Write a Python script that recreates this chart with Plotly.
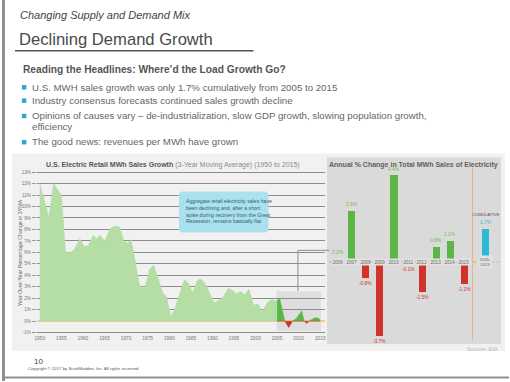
import plotly.graph_objects as go

# ---------------- data ----------------
ma_years = [1950.0, 1952.1, 1953.2, 1955.0, 1956.0, 1957.2, 1958.1, 1959.3, 1960.3, 1961.2,
            1962.4, 1963.1, 1964.0, 1965.0, 1966.4, 1967.4, 1968.5, 1969.5, 1970.4, 1971.2,
            1973.1, 1974.3, 1975.4, 1976.4, 1978.5, 1979.4, 1980.4, 1981.2, 1983.5, 1984.5,
            1985.4, 1986.6, 1987.3, 1988.5, 1990.4, 1991.9, 1992.5, 1993.7, 1994.6, 1995.6,
            1996.5, 1997.5, 1998.5, 1999.6, 2000.6, 2001.5, 2002.7, 2003.7, 2004.4, 2005.0]
ma_vals = [12.0, 9.1, 12.0, 11.0, 6.0, 6.0, 6.3, 7.2, 6.5, 6.6,
           7.5, 7.2, 7.5, 7.0, 8.1, 8.3, 8.2, 7.0, 6.8, 7.1,
           3.2, 2.8, 4.5, 4.9, 2.5, 2.1, 0.4, 1.0, 3.6, 3.3,
           2.5, 3.6, 3.7, 3.2, 1.6, 1.9, 2.1, 2.9, 2.7, 2.4,
           2.6, 2.3, 2.8, 1.4, 1.5, 0.8, 1.6, 1.9, 1.8, 1.8]

recent_years = [2005.0, 2005.6, 2006.8, 2007.7, 2008.6, 2009.6, 2010.7, 2011.3, 2011.9,
                2012.4, 2013.0, 2013.8, 2014.6, 2015.0]
recent_vals = [1.8, 2.0, 0.0, -0.55, 0.0, 0.3, 0.9, 0.0, -0.2,
               0.0, 0.15, 0.3, 0.25, 0.1]

x_ticks = list(range(1950, 2016, 5))
y_ticks = list(range(-1, 14))
y_ticktext = [f"{v}%" for v in y_ticks]

bar_years = ["2006", "2007", "2008", "2009", "2010", "2011", "2012", "2013", "2014", "2015"]
bar_vals = [0.2, 2.6, -0.8, -3.7, 4.4, -0.1, -1.5, 0.8, 1.1, -1.1]
cum_label = "2005-<br>2015"
cum_val = 1.7

bullets = [
    ["U.S. MWH sales growth was only 1.7% cumulatively from 2005 to 2015"],
    ["Industry consensus forecasts continued sales growth decline"],
    ["Opinions of causes vary \u2013 de-industrialization, slow GDP growth, slowing population growth,",
     "efficiency"],
    ["The good news: revenues per MWh have grown"],
]

# ---------------- helpers ----------------
W, H = 510, 382
def px(x):
    return x / W
def py(y):
    return 1 - y / H

FONT = "Liberation Sans, Arial, sans-serif"
NARROW = "Liberation Sans Narrow, Arial Narrow, Liberation Sans, sans-serif"
GREEN_L = "#b5dea4"
GREEN = "#5cb646"
RED = "#cf332c"
CYAN = "#2bb9d6"

fig = go.Figure()

# left area chart
fig.add_trace(go.Scatter(x=ma_years, y=ma_vals, mode="lines", fill="tozeroy",
                         fillcolor=GREEN_L, line=dict(color=GREEN_L, width=0.5),
                         xaxis="x", yaxis="y", hoverinfo="skip"))
fig.add_trace(go.Scatter(x=recent_years, y=[max(v, 0) for v in recent_vals], mode="lines",
                         fill="tozeroy", fillcolor=GREEN, line=dict(color=GREEN, width=0.5),
                         xaxis="x", yaxis="y", hoverinfo="skip"))
fig.add_trace(go.Scatter(x=recent_years, y=[min(v, 0) for v in recent_vals], mode="lines",
                         fill="tozeroy", fillcolor=RED, line=dict(color=RED, width=0.5),
                         xaxis="x", yaxis="y", hoverinfo="skip"))

# right bar chart
idx = list(range(len(bar_vals)))
fig.add_trace(go.Bar(x=idx, y=bar_vals, width=0.5,
                     marker=dict(color=[GREEN if v > 0 else RED for v in bar_vals], line=dict(width=0)),
                     xaxis="x2", yaxis="y2", hoverinfo="skip"))
cum_x = len(bar_vals) + 0.5
fig.add_trace(go.Bar(x=[cum_x], y=[cum_val], width=0.5, marker=dict(color=CYAN, line=dict(width=0)),
                     xaxis="x2", yaxis="y2", hoverinfo="skip"))

shapes = []
annotations = []

# slide borders
shapes.append(dict(type="rect", xref="paper", yref="paper", x0=0, x1=px(3), y0=0, y1=1,
                   fillcolor="#8f8f8f", line=dict(width=0), layer="below"))
shapes.append(dict(type="line", xref="paper", yref="paper", x0=0, x1=1, y0=py(378.5), y1=py(378.5),
                   line=dict(color="#8f8f8f", width=2)))
# title underline
shapes.append(dict(type="line", xref="paper", yref="paper", x0=px(13), x1=px(253), y0=py(51), y1=py(51),
                   line=dict(color="#555555", width=1.5)))
# panels
shapes.append(dict(type="rect", xref="paper", yref="paper", x0=px(10), x1=px(506), y0=py(352), y1=py(154),
                   fillcolor="#f1f1f1", line=dict(width=0), layer="below"))
shapes.append(dict(type="rect", xref="paper", yref="paper", x0=px(327), x1=px(502), y0=py(345), y1=py(158),
                   fillcolor="#dadada", line=dict(width=0), layer="below"))
# highlight rect in left chart
shapes.append(dict(type="rect", xref="x", yref="y", x0=2004.9, x1=2015.2, y0=-0.85, y1=2.6,
                   fillcolor="#dedede", line=dict(width=0), layer="below"))
# connector
shapes.append(dict(type="path", xref="paper", yref="paper",
                   path=f"M {px(297.7)},{py(291.7)} L {px(297.7)},{py(251)} L {px(329)},{py(251)}",
                   line=dict(color="#8c8c8c", width=1)))
# callout box (rounded)
bx0, bx1, by0, by1, r = 178, 268, 192, 233, 4
rx, ry = r / W, r / H
path = (f"M {px(bx0)+rx},{py(by0)} L {px(bx1)-rx},{py(by0)} Q {px(bx1)},{py(by0)} {px(bx1)},{py(by0)-ry} "
        f"L {px(bx1)},{py(by1)+ry} Q {px(bx1)},{py(by1)} {px(bx1)-rx},{py(by1)} "
        f"L {px(bx0)+rx},{py(by1)} Q {px(bx0)},{py(by1)} {px(bx0)},{py(by1)+ry} "
        f"L {px(bx0)},{py(by0)-ry} Q {px(bx0)},{py(by0)} {px(bx0)+rx},{py(by0)} Z")
shapes.append(dict(type="path", xref="paper", yref="paper", path=path,
                   fillcolor="#a9e2ee", line=dict(width=0), layer="above"))
# right chart zero line and separator
shapes.append(dict(type="line", xref="paper", yref="y2", x0=px(329), x1=px(500), y0=0, y1=0,
                   line=dict(color="#f2b07e", width=1.5, dash="dot"), layer="below"))
shapes.append(dict(type="line", xref="paper", yref="paper", x0=px(473.3), x1=px(473.3), y0=py(341.7), y1=py(168),
                   line=dict(color="#f2b07e", width=1)))
# bullets squares
bullet_y = [87.3, 100.7, 116.0, 142.3]
for yy in bullet_y:
    shapes.append(dict(type="rect", xref="paper", yref="paper", x0=px(20), x1=px(24.5),
                       y0=py(yy + 2.5), y1=py(yy - 2), fillcolor="#2aa9d6", line=dict(width=0)))

def note(x, y, text, size, color="#555555", family=FONT, xanchor="left", yanchor="middle", **kw):
    annotations.append(dict(xref="paper", yref="paper", x=px(x), y=py(y), text=text, showarrow=False,
                            xanchor=xanchor, yanchor=yanchor,
                            font=dict(size=size, color=color, family=family), **kw))

note(16, 15, "<i>Changing Supply and Demand Mix</i>", 11, "#444444")
note(15, 40, "Declining Demand Growth", 16.6, "#4a4a4a")
note(19, 70, "<b>Reading the Headlines: Where\u2019d the Load Growth Go?</b>", 10.2, "#555555")
for i, lines in enumerate(bullets):
    for j, t in enumerate(lines):
        note(28, bullet_y[i] + j * 10.7, t, 9.7, "#666666")

note(172, 165, "<b>U.S. Electric Retail MWh Sales Growth</b> <span style='color:#8a8a8a'>(3-Year Moving Average) (1950 to 2015)</span>",
     7.0, "#555555", xanchor="center")
annotations.append(dict(xref="paper", yref="paper", x=px(18), y=py(253), text="Year-Over-Year Percentage Change in 3YMA",
                        showarrow=False, textangle=-90, xanchor="center", yanchor="middle",
                        font=dict(size=5.3, color="#666666", family=FONT)))
note(183, 197,
     "Aggregate retail electricity sales have<br>been declining and, after a short<br>spike during recovery from the Great<br>Recession, remains basically flat",
     5.2, "#3d5a66", family=NARROW, yanchor="top", align="left")

note(414, 165, "<b>Annual % Change in Total MWh Sales of Electricity</b>", 7.0, "#606060", xanchor="center")
note(501, 349.5, "Source: EIA", 5.8, "#b8b8b8", xanchor="right")
note(30, 362.5, "10", 8, "#444444")
note(24, 369.5, "Copyright \u00a9 2017 by ScottMadden, Inc. All rights reserved.", 4.3, "#555555")

# bar labels
for i, v in enumerate(bar_vals):
    col = "#6cbf4e" if v > 0 else RED
    annotations.append(dict(xref="x2", yref="y2", x=i, y=v, text=f"{v}%", showarrow=False,
                            xanchor="center", yanchor="bottom" if v > 0 else "top",
                            yshift=1 if v > 0 else -1,
                            font=dict(size=4.8, color=col, family=NARROW)))
    annotations.append(dict(xref="x2", yref="y2", x=i, y=0, text=bar_years[i], showarrow=False,
                            xanchor="center", yanchor="middle", bgcolor="#e2e2e2", borderpad=0.5,
                            font=dict(size=4.6, color="#666666", family=NARROW)))
annotations.append(dict(xref="x2", yref="y2", x=cum_x, y=cum_val, text=f"{cum_val}%", showarrow=False,
                        xanchor="center", yanchor="bottom", yshift=1,
                        font=dict(size=4.8, color=CYAN, family=NARROW)))
annotations.append(dict(xref="x2", yref="y2", x=cum_x, y=cum_val, text="CUMULATIVE", showarrow=False,
                        xanchor="center", yanchor="bottom", yshift=9,
                        font=dict(size=4.3, color="#555555", family=NARROW)))
annotations.append(dict(xref="x2", yref="y2", x=cum_x, y=0, text=cum_label, showarrow=False,
                        xanchor="center", yanchor="middle", bgcolor="#e2e2e2", borderpad=0.5,
                        font=dict(size=4.4, color="#666666", family=NARROW)))

fig.update_layout(
    width=W, height=H, margin=dict(l=0, r=0, t=0, b=0),
    paper_bgcolor="white", plot_bgcolor="rgba(0,0,0,0)", showlegend=False,
    bargap=0,
    xaxis=dict(domain=[px(35), px(325)], range=[1949.31, 2016.13], tickvals=x_ticks,
               tickfont=dict(size=4.8, color="#777777", family=FONT), showgrid=False, zeroline=False,
               showline=False, ticks="", anchor="y", fixedrange=True),
    yaxis=dict(domain=[py(334.65), py(170)], range=[-1.1, 13.22], tickvals=y_ticks, ticktext=y_ticktext,
               showgrid=True, gridcolor="#8c8c8c", gridwidth=1,
               zeroline=True, zerolinecolor="#f6c79a", zerolinewidth=2,
               ticks="outside", ticklen=4, tickcolor="#9a9a9a",
               tickfont=dict(size=4.6, color="#777777", family=FONT), anchor="x", fixedrange=True),
    xaxis2=dict(domain=[px(329), px(500)], range=[-0.614, 11.456], visible=False, anchor="y2"),
    yaxis2=dict(domain=[py(340), py(170)], range=[-3.88, 4.66], visible=False, anchor="x2"),
    shapes=shapes, annotations=annotations,
)

fig.write_html("out.html", config={"displayModeBar": False},
               post_script="document.body.style.margin='0';document.body.style.overflow='hidden';")
